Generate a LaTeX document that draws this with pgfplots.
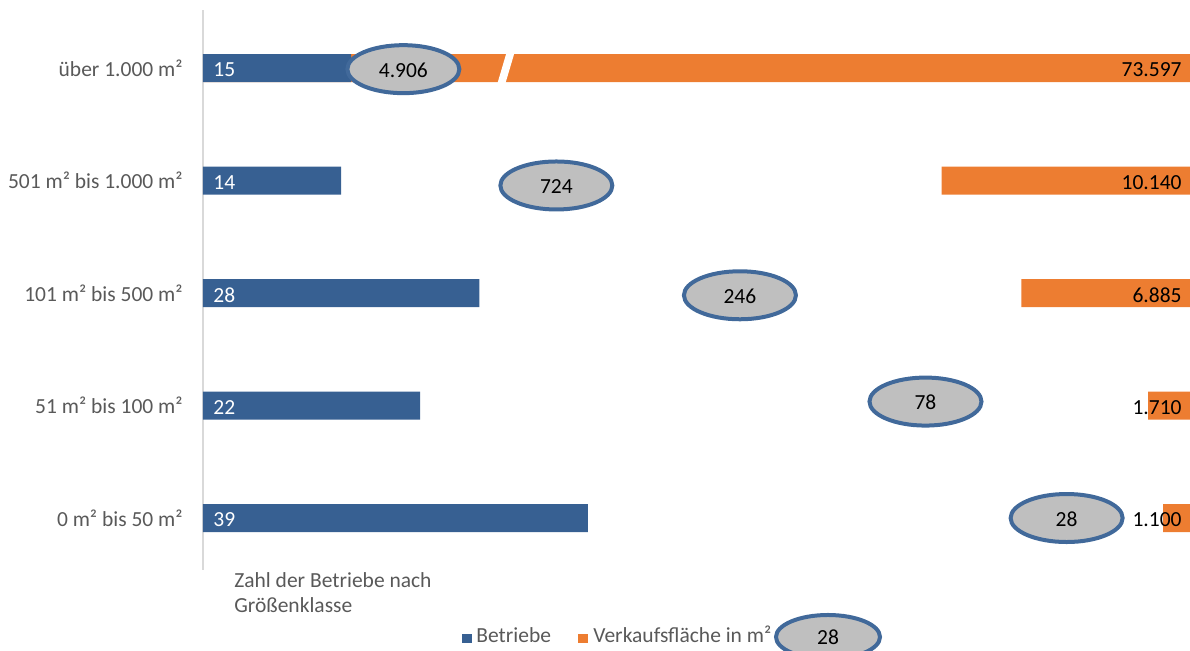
\documentclass[border=0pt]{standalone}
\usepackage{fontspec}
\setmainfont{Carlito}
\usepackage{pgfplots}
\pgfplotsset{compat=1.18}
\usetikzlibrary{shapes.geometric}
\definecolor{bblue}{HTML}{376092}
\definecolor{borange}{HTML}{ED7D31}
\definecolor{eline}{HTML}{41699A}
\definecolor{efill}{HTML}{BFBFBF}
\definecolor{tgray}{HTML}{595959}
\begin{document}
\fontsize{10.75}{13}\selectfont
\begin{tikzpicture}[font=\fontsize{10.75}{13}\selectfont]
\useasboundingbox (0,0) rectangle (595pt,325.5pt);
\pgfplotsset{base/.style={at={(101.5pt,40.5pt)}, anchor=south west, width=493.5pt, height=280pt, scale only axis, ymin=-0.462, ymax=4.516}}
% Verkaufsflaeche (from the right)
\begin{axis}[base, x dir=reverse, xmin=0, xmax=40300, hide axis]
\addplot[xbar, bar width=14pt, fill=borange, draw=none] coordinates {(1100,0) (1710,1) (6885,2) (10140,3) (73597,4)};
\fill[white] (axis cs:28296,3.85) -- (axis cs:27970,3.85) -- (axis cs:27562,4.15) -- (axis cs:27889,4.15) -- cycle;
\addplot[only marks, mark size=0pt, draw=none, fill=none, point meta=explicit symbolic, nodes near coords, nodes near coords align={east}, nodes near coords style={text=black, xshift=-4pt, yshift=-1pt, inner sep=0pt}] coordinates {(0,0)[1.100] (0,1)[1.710] (0,2)[6.885] (0,3)[10.140] (0,4)[73.597]};
\end{axis}
% Betriebe
\begin{axis}[base, xmin=0, xmax=100, axis x line=none, axis y line*=left, y axis line style={draw=black!15, line width=0.8pt}, ytick={0,1,2,3,4}, yticklabels={0 m² bis 50 m², 51 m² bis 100 m², 101 m² bis 500 m², 501 m² bis 1.000 m², über 1.000 m²}, major tick length=0pt, ytick style={draw=none}, yticklabel style={text=tgray, inner sep=0pt, xshift=-10pt}, clip=false]
\addplot[xbar, bar width=14pt, fill=bblue, draw=none] coordinates {(39,0) (22,1) (28,2) (14,3) (15,4)};
\addplot[only marks, mark size=0pt, draw=none, fill=none, point meta=explicit symbolic, nodes near coords, nodes near coords align={west}, nodes near coords style={text=white, xshift=5pt, yshift=-1pt, inner sep=0pt}] coordinates {(0,0)[39] (0,1)[22] (0,2)[28] (0,3)[14] (0,4)[15]};
\addplot[only marks, mark size=0pt, draw=none, fill=none, point meta=explicit symbolic, nodes near coords, nodes near coords align={center}, nodes near coords style={ellipse, draw=eline, line width=2pt, fill=efill, minimum width=56pt, minimum height=24pt, inner sep=0pt, text height=8pt, text depth=0pt, text=black}] coordinates {(20.3,3.99)[4.906] (35.8,2.956)[724] (54.4,1.98)[246] (73.2,1.035)[78] (87.5,0)[28]};
\end{axis}
\node[anchor=base west, inner sep=0pt, text=tgray] at (117pt,31.5pt) {Zahl der Betriebe nach};
\node[anchor=base west, inner sep=0pt, text=tgray] at (117pt,19pt) {Größenklasse};
\fill[bblue] (231pt,4pt) rectangle (236pt,8.5pt);
\node[anchor=base west, inner sep=0pt, text=tgray] at (238pt,4pt) {Betriebe};
\fill[borange] (289pt,4pt) rectangle (294pt,8.5pt);
\node[anchor=base west, inner sep=0pt, text=tgray] at (296.5pt,4pt) {Verkaufsfläche in m²};
\node[ellipse, draw=eline, line width=2pt, fill=efill, minimum width=52pt, minimum height=22pt, inner sep=0pt, text height=8pt, text depth=0pt, text=black] at (414pt,7pt) {28};
\end{tikzpicture}
\end{document}
